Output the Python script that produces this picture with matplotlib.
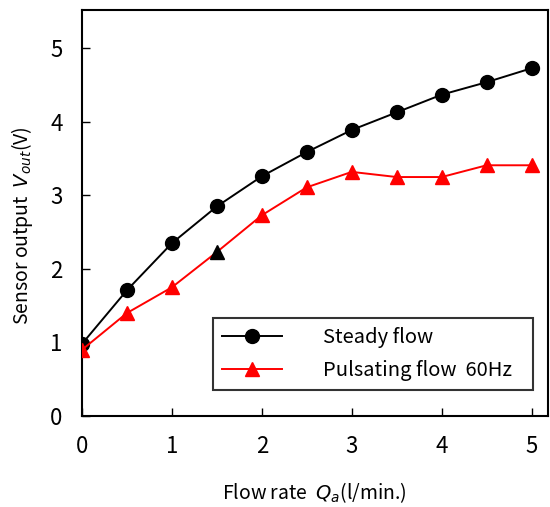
import matplotlib
matplotlib.use('Agg')
import matplotlib.pyplot as plt

plt.rcParams['font.family'] = ['Noto Sans CJK JP', 'DejaVu Sans']
plt.rcParams['mathtext.fontset'] = 'dejavusans'

# ------------------ данные ------------------
flow = [0, 0.5, 1, 1.5, 2, 2.5, 3, 3.5, 4, 4.5, 5]
steady = [0.98, 1.71, 2.35, 2.85, 3.26, 3.59, 3.89, 4.13, 4.37, 4.54, 4.73]
pulsating = [0.90, 1.40, 1.75, 2.23, 2.73, 3.11, 3.32, 3.25, 3.25, 3.41, 3.41]
black_idx = 3  # в оригинале этот треугольник чёрный
xticks = [0, 1, 2, 3, 4, 5]
yticks = [0, 1, 2, 3, 4, 5]

fig = plt.figure(figsize=(5.5, 5.07), dpi=100)
ax = fig.add_axes([0.149, 0.1795, 0.847, 0.8005])

red_idx = [i for i in range(len(flow)) if i != black_idx]

ax.plot(flow, steady, color='black', lw=1.4, marker='o', ms=10,
        label='Steady flow', zorder=3)
ax.plot(flow, pulsating, color='red', lw=1.4, marker='^', ms=10.5,
        markevery=red_idx, label='Pulsating flow  60Hz', zorder=3)
ax.plot([flow[black_idx]], [pulsating[black_idx]], ls='none', marker='^',
        ms=10.5, color='black', zorder=4)

ax.set_xlim(0, 5.18)
ax.set_ylim(0, 5.52)
ax.set_xticks(xticks)
ax.set_yticks(yticks)
ax.tick_params(direction='in', length=6, width=1, labelsize=16)
ax.tick_params(axis='x', pad=14)
ax.tick_params(axis='y', pad=14)
for s in ax.spines.values():
    s.set_linewidth(1.5)

ax.set_xlabel('Flow rate  $Q_a$(l/min.)', fontsize=14, labelpad=16)
ax.set_ylabel('Sensor output  $V_{out}$(V)', fontsize=14)
ax.yaxis.set_label_coords(-0.1, 0.47)

leg = ax.legend(loc='lower left', bbox_to_anchor=(0.281, 0.064, 0.687, 0.197),
                mode='expand', fontsize=14.5, frameon=True, fancybox=False,
                edgecolor='black', handlelength=3.0, handletextpad=2.0,
                borderpad=0.45, labelspacing=0.6, borderaxespad=0)
leg.get_frame().set_linewidth(1.5)

fig.savefig('out.png', dpi=100)
